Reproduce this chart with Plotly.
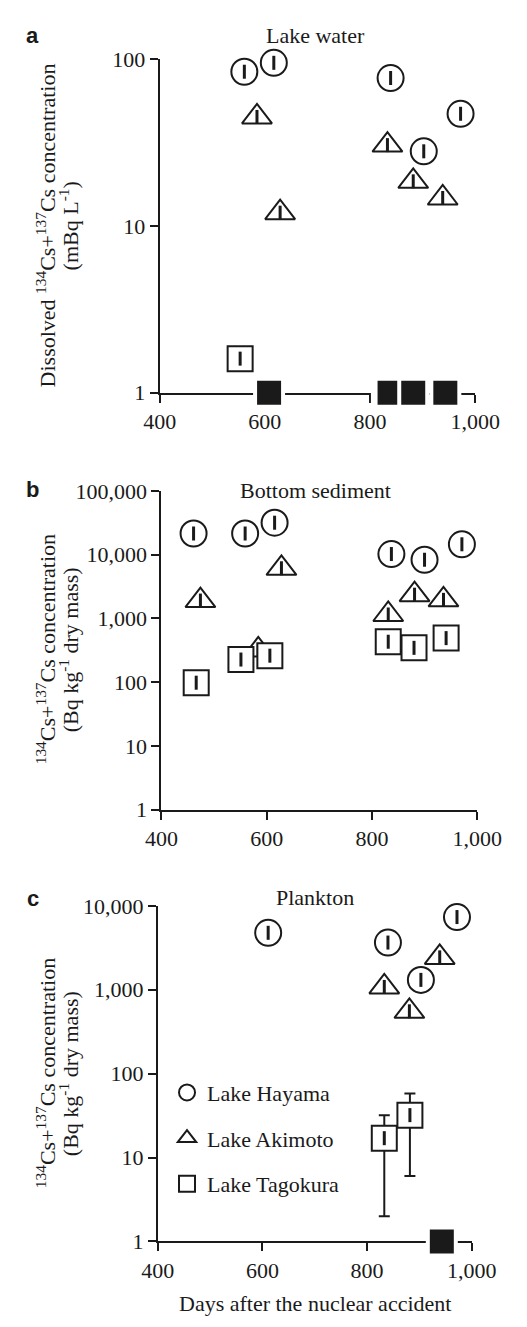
import plotly.graph_objects as go

W, H = 527, 1327

# ---------------- data ----------------
x_ticks = [400, 600, 800, 1000]
x_ticktext = ["400", "600", "800", "1,000"]

# Panel a: Lake water, dissolved (mBq/L)
a_hay_day = [561, 617, 839, 972, 902]
a_hay_val = [84, 95, 77, 47, 28]
a_aki_day = [585, 629, 833, 882, 938]
a_aki_val = [45, 12, 30.5, 18.5, 14.7]
a_tag_day = [553]
a_tag_val = [1.6]
a_nd_day = [608, 832, 837, 882, 943]
a_nd_val = [1, 1, 1, 1, 1]
a_yticks = [1, 10, 100]
a_yticktext = ["1", "10", "100"]

# Panel b: Bottom sediment (Bq/kg dry)
b_hay_day = [461, 559, 615, 837, 900, 971]
b_hay_val = [21400, 21400, 31600, 10200, 8300, 14500]
b_aki_day = [474, 628, 584, 831, 881, 936]
b_aki_val = [1900, 6100, 320, 1150, 2350, 1950]
b_tag_day = [466, 551, 606, 831, 880, 941]
b_tag_val = [98, 226, 260, 430, 345, 490]
b_yticks = [1, 10, 100, 1000, 10000, 100000]
b_yticktext = ["1", "10", "100", "1,000", "10,000", "100,000"]

# Panel c: Plankton (Bq/kg dry)
c_hay_day = [611, 840, 903, 972]
c_hay_val = [4770, 3650, 1310, 7350]
c_aki_day = [833, 881, 939]
c_aki_val = [1080, 553, 2430]
c_tag_day = [833, 882]
c_tag_val = [17, 32]
c_tag_err_plus = [15, 26]
c_tag_err_minus = [15, 26]
c_nd_day = [943]
c_nd_val = [1]
c_yticks = [1, 10, 100, 1000, 10000]
c_yticktext = ["1", "10", "100", "1,000", "10,000"]

# ---------------- style ----------------
INK = "#1a1a1a"
SERIF = "Liberation Serif, Times New Roman, serif"
FS = 22

fig = go.Figure()


def px_x(p):
    return p / W


def px_y(p):
    return 1 - p / H


def add_points(days, vals, symbol, size, xa, ya, name=None, legend=False, err=None):
    kw = {}
    if err is not None:
        kw["error_y"] = dict(type="data", symmetric=False, array=err[0], arrayminus=err[1],
                             color=INK, thickness=2, width=5.5)
    fig.add_trace(go.Scatter(
        x=days, y=vals, mode="markers", xaxis=xa, yaxis=ya, name=name,
        showlegend=legend, cliponaxis=False,
        marker=dict(symbol=symbol, size=size, color="white", line=dict(color=INK, width=2)),
        **kw))
    # inner small bar
    fig.add_trace(go.Scatter(
        x=days, y=vals, mode="markers", xaxis=xa, yaxis=ya, showlegend=False, cliponaxis=False,
        marker=dict(symbol="line-ns", size=10, color=INK, line=dict(color=INK, width=3))))


def add_nd(days, vals, xa, ya):
    fig.add_trace(go.Scatter(
        x=days, y=vals, mode="markers", xaxis=xa, yaxis=ya, showlegend=False, cliponaxis=False,
        marker=dict(symbol="square", size=28, color=INK, line=dict(color="white", width=4))))


# Panel a
add_points(a_hay_day, a_hay_val, "circle", 26, "x", "y", "Lake Hayama", True)
add_points(a_aki_day, a_aki_val, "triangle-up", 26, "x", "y", "Lake Akimoto", True)
add_points(a_tag_day, a_tag_val, "square", 25, "x", "y", "Lake Tagokura", True)
add_nd(a_nd_day, a_nd_val, "x", "y")

# Panel b
add_points(b_hay_day, b_hay_val, "circle", 26, "x2", "y2")
add_points(b_aki_day, b_aki_val, "triangle-up", 26, "x2", "y2")
add_points(b_tag_day, b_tag_val, "square", 25, "x2", "y2")

# Panel c
add_points(c_hay_day, c_hay_val, "circle", 26, "x3", "y3")
add_points(c_aki_day, c_aki_val, "triangle-up", 26, "x3", "y3")
add_points(c_tag_day, c_tag_val, "square", 25, "x3", "y3",
           err=(c_tag_err_plus, c_tag_err_minus))
add_nd(c_nd_day, c_nd_val, "x3", "y3")

# give each legend item its own group for spacing
legend_names = {"Lake Hayama": "g1", "Lake Akimoto": "g2", "Lake Tagokura": "g3"}
for tr in fig.data:
    if tr.name in legend_names:
        tr.legendgroup = legend_names[tr.name]

panels = [
    # (xdomain px, ydomain px (bottom, top), ylog range, yticks, yticktext)
    ((155, 498), (388, 48), (0, 2), a_yticks, a_yticktext),
    ((157, 500), (813, 488), (0, 5), b_yticks, b_yticktext),
    ((153, 494), (1253, 911), (0, 4), c_yticks, c_yticktext),
]

layout = {}
for i, (xd, yd, yr, yt, ytt) in enumerate(panels):
    n = i + 1
    xs = "" if n == 1 else str(n)
    xdom = [px_x(xd[0]), px_x(xd[1])]
    ydom = [px_y(yd[0]), px_y(yd[1])]
    common = dict(showgrid=False, zeroline=False, layer="below traces", tickcolor=INK,
                  tickwidth=2, ticklen=8)
    layout["xaxis" + xs] = dict(
        domain=xdom, range=[400, 1000], anchor="y" + xs, showline=True, linecolor=INK,
        linewidth=2, ticks="outside", tickmode="array", tickvals=x_ticks, ticktext=x_ticktext,
        tickfont=dict(family=SERIF, size=FS, color=INK), **common)
    layout["yaxis" + xs] = dict(
        domain=ydom, type="log", range=list(yr), anchor="x" + xs, showline=True, linecolor=INK,
        linewidth=2, ticks="outside", tickmode="array", tickvals=yt, ticktext=ytt,
        tickfont=dict(family=SERIF, size=FS, color=INK), **common)
    # overlay axes for inward half of crossing ticks
    ox = str(n + 3)
    layout["xaxis" + ox] = dict(
        domain=xdom, range=[400, 1000], anchor="y" + xs, overlaying="x" + xs, side="bottom",
        showline=False, ticks="inside", tickmode="array", tickvals=x_ticks,
        showticklabels=False, **common)
    layout["yaxis" + ox] = dict(
        domain=ydom, type="log", range=list(yr), anchor="x" + xs, overlaying="y" + xs,
        side="left", showline=False, ticks="inside", tickmode="array", tickvals=yt,
        showticklabels=False, **common)

fig.update_layout(**layout)

annotations = []
# panel letters
for letter, y in [("a", 24), ("b", 487), ("c", 904)]:
    annotations.append(dict(text="<b>%s</b>" % letter, x=px_x(17), y=px_y(y), xref="paper",
                            yref="paper", showarrow=False, xanchor="center", yanchor="middle",
                            font=dict(family="Liberation Sans, Arial, sans-serif", size=22,
                                      color=INK)))
# panel titles
for title, y in [("Lake water", 24), ("Bottom sediment", 488), ("Plankton", 903)]:
    annotations.append(dict(text=title, x=px_x(324), y=px_y(y), xref="paper", yref="paper",
                            showarrow=False, xanchor="center", yanchor="middle",
                            font=dict(family=SERIF, size=FS, color=INK)))
# y titles
ytitles = [
    ("Dissolved <sup>134</sup>Cs+<sup>137</sup>Cs concentration", "(mBq L<sup>-1</sup>)", 218),
    ("<sup>134</sup>Cs+<sup>137</sup>Cs concentration", "(Bq kg<sup>-1</sup> dry mass)", 650),
    ("<sup>134</sup>Cs+<sup>137</sup>Cs concentration", "(Bq kg<sup>-1</sup> dry mass)", 1082),
]
for l1, l2, yc in ytitles:
    annotations.append(dict(text=l1, x=px_x(31), y=px_y(yc), xref="paper", yref="paper",
                            showarrow=False, xanchor="center", yanchor="middle", textangle=-90,
                            font=dict(family=SERIF, size=FS, color=INK)))
    annotations.append(dict(text=l2, x=px_x(56), y=px_y(yc), xref="paper", yref="paper",
                            showarrow=False, xanchor="center", yanchor="middle", textangle=-90,
                            font=dict(family=SERIF, size=FS, color=INK)))
# x title
annotations.append(dict(text="Days after the nuclear accident", x=px_x(324), y=px_y(1316),
                        xref="paper", yref="paper", showarrow=False, xanchor="center",
                        yanchor="middle", font=dict(family=SERIF, size=FS, color=INK)))

fig.update_layout(
    width=W, height=H, margin=dict(l=0, r=0, t=0, b=0),
    paper_bgcolor="white", plot_bgcolor="white",
    annotations=annotations,
    showlegend=True,
    legend=dict(x=px_x(163), y=px_y(1080), xanchor="left", yanchor="top",
                font=dict(family=SERIF, size=FS, color=INK), bgcolor="rgba(0,0,0,0)",
                tracegroupgap=14, traceorder="grouped"),
)

fig.write_html("out.html")
